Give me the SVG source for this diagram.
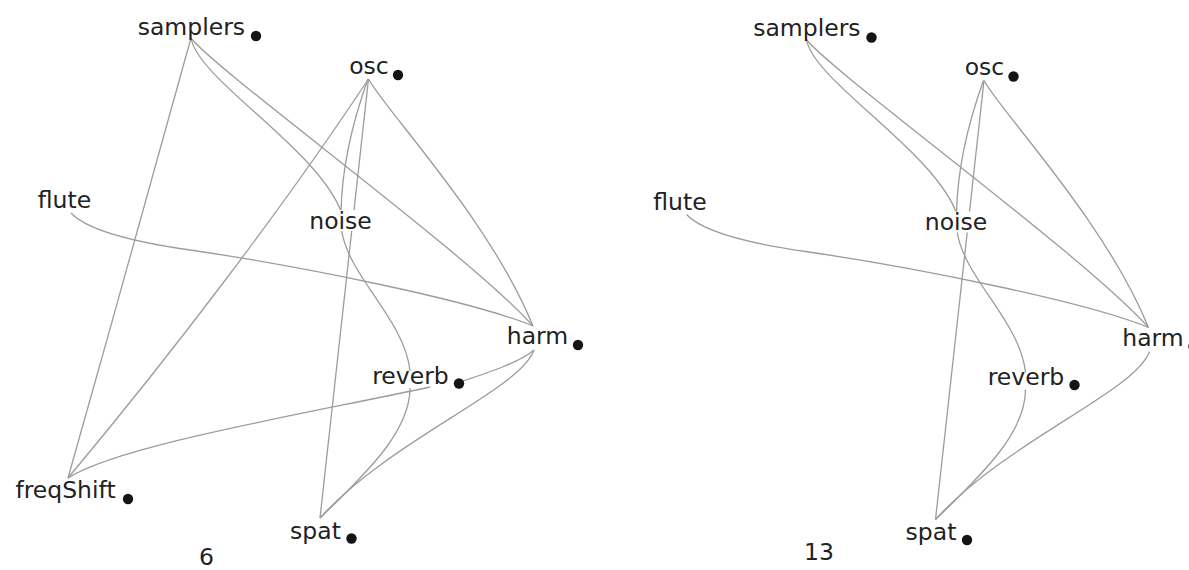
<svg xmlns="http://www.w3.org/2000/svg" width="1189" height="570" viewBox="0 0 1189 570">
<style>
.edge{fill:none;stroke:#9c9c9c;stroke-width:1.3}
.lbl{font-family:"DejaVu Sans","Liberation Sans",sans-serif;font-size:23.5px;fill:#222;text-anchor:middle}
.dot{fill:#151515}
.bg{fill:#fff}
</style>
<rect width="1189" height="570" fill="#fff"/>
<g id="panel-left">
<g id="edges-left">
<path class="edge" d="M191,38 C160,150 110,330 68,478"/>
<path class="edge" d="M191,38 C198,80 320,150 342,214"/>
<path class="edge" d="M191,38 C215,70 470,255 533,326"/>
<path class="edge" d="M368.5,79 C285,205 175,350 68,478"/>
<path class="edge" d="M368,79 C355,115 342,160 341,212"/>
<path class="edge" d="M368.5,79 L320,518"/>
<path class="edge" d="M368.5,79 C385,110 490,220 533,326"/>
<path class="edge" d="M71,213 C85,228 120,240 190,250 C300,266 470,300 533,326"/>
<path class="edge" d="M341.5,229 C347,275 405,320 410,371"/>
<path class="edge" d="M410,388 C410,430 370,470 320,518"/>
<path class="edge" d="M534,350 C520,390 390,440 320,518"/>
<path class="edge" d="M534,350 C520,362 490,372 460,382"/>
<path class="edge" d="M68,478 C120,445 300,415 430,387"/>
</g>
<g id="l-samplers"><text class="lbl" x="191.4" y="34.5">samplers</text><circle class="dot" cx="256" cy="36" r="5.2"/></g>
<g id="l-osc"><text class="lbl" x="369" y="73.5">osc</text><circle class="dot" cx="398" cy="75" r="5.2"/></g>
<g id="l-flute"><text class="lbl" x="64.5" y="208">flute</text></g>
<g id="l-noise"><rect class="bg" x="307" y="210" width="67" height="21"/><text class="lbl" x="340.5" y="228.5">noise</text></g>
<g id="l-harm"><text class="lbl" x="537.5" y="344">harm</text><circle class="dot" cx="578" cy="345" r="5.2"/></g>
<g id="l-reverb"><text class="lbl" x="410.5" y="383.5">reverb</text><circle class="dot" cx="459" cy="383.5" r="5.2"/></g>
<g id="l-freqShift"><text class="lbl" x="65.5" y="498">freqShift</text><circle class="dot" cx="128" cy="499" r="5.2"/></g>
<g id="l-spat"><text class="lbl" x="315.5" y="538.5">spat</text><circle class="dot" cx="351.5" cy="538.5" r="5.2"/></g>
<text id="l-count" class="lbl" x="206.5" y="564.5">6</text>
</g>
<g id="panel-right" transform="translate(615.5,1.5)">
<g id="edges-right">
<path class="edge" d="M191,38 C198,80 320,150 342,214"/>
<path class="edge" d="M191,38 C215,70 470,255 533,326"/>
<path class="edge" d="M368,79 C355,115 342,160 341,212"/>
<path class="edge" d="M368.5,79 L320,518"/>
<path class="edge" d="M368.5,79 C385,110 490,220 533,326"/>
<path class="edge" d="M71,213 C85,228 120,240 190,250 C300,266 470,300 533,326"/>
<path class="edge" d="M341.5,229 C347,275 405,320 410,371"/>
<path class="edge" d="M410,388 C410,430 370,470 320,518"/>
<path class="edge" d="M534,350 C520,390 390,440 320,518"/>
</g>
<g id="r-samplers"><text class="lbl" x="191.4" y="34.5">samplers</text><circle class="dot" cx="256" cy="36" r="5.2"/></g>
<g id="r-osc"><text class="lbl" x="369" y="73.5">osc</text><circle class="dot" cx="398" cy="75" r="5.2"/></g>
<g id="r-flute"><text class="lbl" x="64.5" y="208">flute</text></g>
<g id="r-noise"><rect class="bg" x="307" y="210" width="67" height="21"/><text class="lbl" x="340.5" y="228.5">noise</text></g>
<g id="r-harm"><text class="lbl" x="537.5" y="344">harm</text><circle class="dot" cx="578" cy="345" r="5.2"/></g>
<g id="r-reverb"><text class="lbl" x="410.5" y="383.5">reverb</text><circle class="dot" cx="459" cy="383.5" r="5.2"/></g>
<g id="r-spat"><text class="lbl" x="315.5" y="538.5">spat</text><circle class="dot" cx="351.5" cy="538.5" r="5.2"/></g>
</g>
<text id="r-count" class="lbl" x="819" y="560">13</text>
</svg>
